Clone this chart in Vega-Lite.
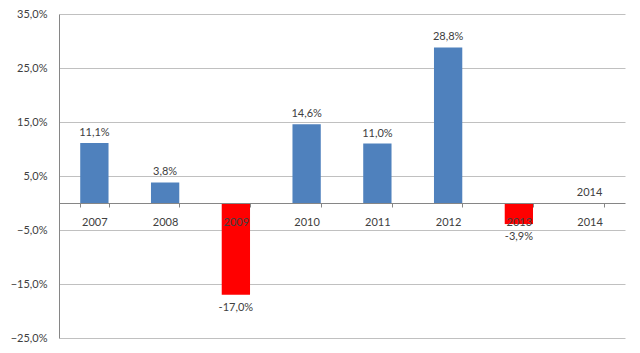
{
  "$schema": "https://vega.github.io/schema/vega-lite/v6.json",
  "autosize": "none",
  "width": 566,
  "height": 324,
  "padding": {"left": 59, "top": 14, "right": 15, "bottom": 15},
  "background": "white",
  "config": {
    "view": {"stroke": null},
    "font": "Lato",
    "locale": {"number": {"decimal": ",", "thousands": ".", "grouping": [3], "currency": ["", " €"]}}
  },
  "data": {
    "values": [
      {"year": "2007", "value": 0.111, "label": "11,1%"},
      {"year": "2008", "value": 0.038, "label": "3,8%"},
      {"year": "2009", "value": -0.170, "label": "-17,0%"},
      {"year": "2010", "value": 0.146, "label": "14,6%"},
      {"year": "2011", "value": 0.110, "label": "11,0%"},
      {"year": "2012", "value": 0.288, "label": "28,8%"},
      {"year": "2013", "value": -0.039, "label": "-3,9%"},
      {"year": "2014", "value": 0, "label": "2014"}
    ]
  },
  "encoding": {
    "x": {
      "field": "year", "type": "nominal", "sort": null,
      "scale": {"paddingInner": 0.6, "paddingOuter": 0.3},
      "axis": {
        "title": null, "orient": "bottom", "offset": -135, "zindex": 1,
        "labelAngle": 0, "labelFont": "Lato", "labelFontSize": 11, "labelColor": "#404040",
        "domainColor": "#868686", "tickColor": "#868686", "tickSize": 4, "tickBand": "extent",
        "labelPadding": 9
      }
    },
    "y": {
      "field": "value", "type": "quantitative",
      "scale": {"domain": [-0.25, 0.35], "nice": false, "zero": false},
      "axis": {
        "title": null, "format": ".1%", "values": [-0.25, -0.15, -0.05, 0.05, 0.15, 0.25, 0.35],
        "labelFont": "Lato", "labelFontSize": 11, "labelColor": "#404040",
        "domainColor": "#868686", "ticks": false, "labelPadding": 12,
        "gridColor": "#c0c0c0", "gridWidth": 1
      }
    }
  },
  "layer": [
    {
      "mark": {"type": "bar"},
      "encoding": {
        "y2": {"datum": 0},
        "color": {
          "condition": {"test": "datum.value < 0", "value": "#ff0000"},
          "value": "#4f81bd"
        }
      }
    },
    {
      "transform": [{"filter": "datum.value >= 0"}],
      "mark": {"type": "text", "baseline": "bottom", "dy": -5, "fontSize": 11, "color": "#404040", "font": "Lato"},
      "encoding": {"text": {"field": "label"}}
    },
    {
      "transform": [{"filter": "datum.value < 0"}],
      "mark": {"type": "text", "baseline": "top", "dy": 7, "fontSize": 11, "color": "#404040", "font": "Lato"},
      "encoding": {"text": {"field": "label"}}
    }
  ]
}
